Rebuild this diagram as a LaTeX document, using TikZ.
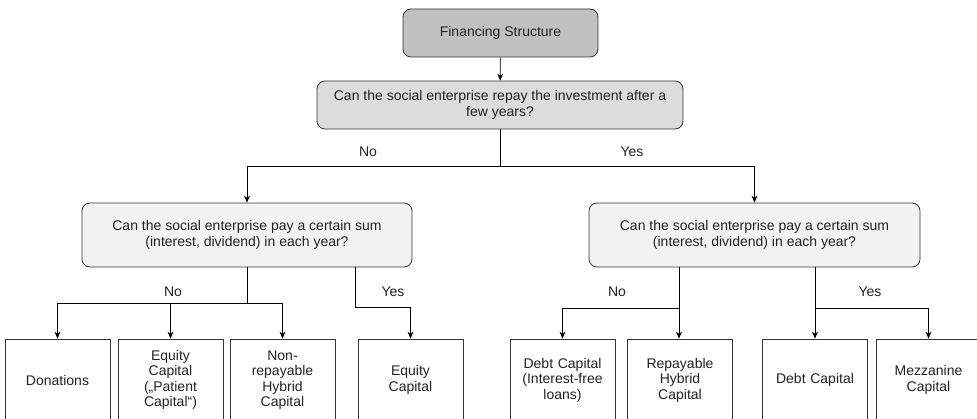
\documentclass[tikz,border=0pt]{standalone}
\usepackage{fontspec}
\setmainfont{Liberation Sans}
\usetikzlibrary{arrows.meta}
\definecolor{rootfill}{HTML}{C0C0C0}
\definecolor{qonefill}{HTML}{DCDCDC}
\definecolor{qtwofill}{HTML}{F2F2F2}
\definecolor{edge}{HTML}{333333}
\definecolor{ink}{HTML}{222222}
\tikzset{
  base/.style={draw=edge, line width=0.8pt, text=ink, align=center,
    font=\fontsize{14}{15.5}\selectfont, inner sep=2pt},
  rootbox/.style={base, rounded corners=8pt, fill=rootfill,
    minimum width=195pt, minimum height=48pt},
  qbox/.style={base, rounded corners=8pt,
    minimum height=48pt},
  leafbox/.style={base, fill=white, minimum width=105pt, minimum height=82pt,
    text width=100pt},
  conn/.style={draw=black, line width=0.8pt},
  arr/.style={conn, -{Stealth[length=7pt,width=6pt]}},
  lbl/.style={text=ink, font=\fontsize{14}{15.5}\selectfont, inner sep=0pt}
}
\begin{document}
\begin{tikzpicture}[x=1pt, y=-1pt]
\useasboundingbox (0,0) rectangle (977,419);
\clip (0,0) rectangle (977,419);

% decision nodes
\node[rootbox] (root) at (500.5,33) {Financing Structure};
\node[qbox, fill=qonefill, minimum width=366pt] (q1) at (500,105)
  {Can the social enterprise repay the investment after a\\few years?};
\node[qbox, fill=qtwofill, minimum width=330pt, minimum height=64pt] (ql) at (247,235)
  {Can the social enterprise pay a certain sum\\(interest, dividend) in each year?};
\node[qbox, fill=qtwofill, minimum width=331pt, minimum height=64pt] (qr) at (754.5,235)
  {Can the social enterprise pay a certain sum\\(interest, dividend) in each year?};

% outcomes
\node[leafbox] (don) at (57.5,380) {Donations};
\node[leafbox] (pat) at (170.5,380) {Equity\\Capital\\(„Patient\\Capital“)};
\node[leafbox] (nrh) at (282.5,380) {Non-\\repayable\\Hybrid\\Capital};
\node[leafbox] (eqc) at (410.5,380) {Equity\\Capital};
\node[leafbox] (dif) at (562.5,380) {Debt Capital\\(Interest-free\\loans)};
\node[leafbox] (rhc) at (680,380) {Repayable\\Hybrid\\Capital};
\node[leafbox] (dbt) at (815,380) {Debt Capital};
\node[leafbox] (mez) at (928.5,380) {Mezzanine\\Capital};

% branch points
\coordinate (j1) at (500,166);
\coordinate (jl) at (247,303);
\coordinate (jly) at (355,267);
\coordinate (jlyb) at (355,307);
\coordinate (jr) at (679,308);
\coordinate (jry) at (815,308);

% connectors
\draw[arr] (root) -- (q1);
\draw[conn] (q1.south) -- (j1);
\draw[arr] (j1) -| (ql.north);
\draw[arr] (j1) -| (qr.north);

\draw[conn] (ql.south) -- (jl);
\draw[arr] (jl) -| (don.north);
\draw[arr] (jl) -| (pat.north);
\draw[arr] (jl) -| (nrh.north);
\draw[arr] (jly) -- (jlyb) -| (eqc.north);

\draw[arr] (qr.south -| jr) -- (rhc.north -| jr);
\draw[arr] (jr) -| (dif.north);
\draw[arr] (qr.south -| dbt.north) -- (dbt.north);
\draw[arr] (jry) -| (mez.north);

% branch labels
\node[lbl] (n1) at (368,152) {No};
\node[lbl] (y1) at (632,152) {Yes};
\node[lbl] (n2) at (173,292) {No};
\node[lbl] (y2) at (393,292) {Yes};
\node[lbl] (n3) at (617,292) {No};
\node[lbl] (y3) at (870,292) {Yes};
\end{tikzpicture}
\end{document}
